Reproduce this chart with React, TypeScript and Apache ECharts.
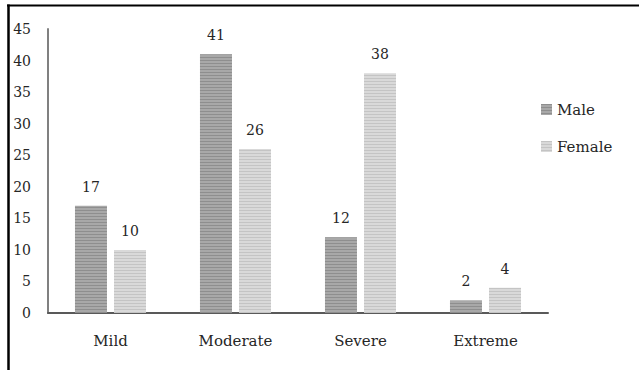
import React, { useEffect, useRef } from "react";
import * as echarts from "echarts";

const categories = ["Mild", "Moderate", "Severe", "Extreme"];
const maleValues = [17, 41, 12, 2];
const femaleValues = [10, 26, 38, 4];
const seriesNames = ["Male", "Female"];

const FONT = "DejaVu Serif";

export default function App() {
  const ref = useRef<HTMLDivElement>(null);
  useEffect(() => {
    if (!ref.current) return;
    const chart = echarts.init(ref.current, undefined, { renderer: "svg" });
    const label = {
      show: true,
      position: "top" as const,
      distance: 12,
      fontFamily: FONT,
      fontSize: 14,
      color: "#262626",
    };
    chart.setOption({
      animation: false,
      backgroundColor: "#ffffff",
      textStyle: { fontFamily: FONT },
      grid: { left: 48, right: 91, top: 29, bottom: 57, containLabel: false },
      legend: {
        orient: "vertical",
        left: 536,
        top: 97,
        itemWidth: 11,
        itemHeight: 11,
        itemGap: 22,
        icon: "rect",
        textStyle: { fontFamily: FONT, fontSize: 15, color: "#262626" },
        data: seriesNames,
      },
      xAxis: {
        type: "category",
        data: categories,
        axisLine: { show: true, lineStyle: { color: "#595959", width: 2 } },
        axisTick: { show: false },
        axisLabel: { fontFamily: FONT, fontSize: 15, color: "#262626", margin: 20 },
      },
      yAxis: {
        type: "value",
        min: 0,
        max: 45,
        interval: 5,
        axisLine: { show: true, lineStyle: { color: "#808080", width: 2 } },
        axisTick: { show: false },
        splitLine: { show: false },
        axisLabel: { fontFamily: FONT, fontSize: 14, color: "#262626", margin: 17 },
      },
      series: [
        {
          name: seriesNames[0],
          type: "bar",
          data: maleValues,
          barWidth: 32,
          barGap: "22%",
          itemStyle: {
            color: "#a8a8a8",
            decal: {
              symbol: "rect",
              symbolSize: 1,
              dashArrayX: [1, 0],
              dashArrayY: [1, 2],
              rotation: 0,
              color: "rgba(110,110,110,0.45)",
            },
          },
          label,
        },
        {
          name: seriesNames[1],
          type: "bar",
          data: femaleValues,
          barWidth: 32,
          itemStyle: {
            color: "#d9d9d9",
            decal: {
              symbol: "rect",
              symbolSize: 1,
              dashArrayX: [1, 0],
              dashArrayY: [1, 2],
              rotation: 0,
              color: "rgba(175,175,175,0.5)",
            },
          },
          label,
        },
      ],
      graphic: [
        { type: "line", shape: { x1: 7, y1: 5.5, x2: 639, y2: 5.5 }, style: { stroke: "#000", lineWidth: 2 } },
        { type: "line", shape: { x1: 8.5, y1: 4.5, x2: 8.5, y2: 370 }, style: { stroke: "#000", lineWidth: 2.5 } },
      ],
    });
    return () => chart.dispose();
  }, []);
  return (
    <div
      ref={ref}
      style={{ position: "fixed", left: 0, top: 0, width: 639, height: 370 }}
    />
  );
}
